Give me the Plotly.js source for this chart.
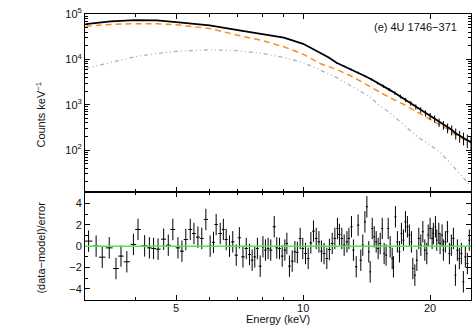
<!DOCTYPE html>
<html>
<head>
<meta charset="utf-8">
<script src="https://cdn.plot.ly/plotly-3.0.1.min.js"></script>
<style>
  html, body { margin: 0; padding: 0; background: #fff; }
  #plot { width: 472px; height: 327px; }
</style>
</head>
<body>
<div id="plot"></div>
<script>
// Spectrum (counts keV^-1)
const specE = [3.05, 3.5, 4.0, 4.5, 5.0, 6.0, 7.0, 8.0, 9.0, 10.0, 10.5, 11.0, 11.5,
  12.0, 12.5, 13.0, 13.5, 14.0, 14.5, 15.0, 15.5, 16.0, 16.5, 17.0, 17.5, 18.0, 18.5,
  19.0, 19.5, 20.0, 20.5, 21.0, 21.5, 22.0, 22.5, 23.0, 23.5, 24.0, 24.5, 25.0];
const specCounts = [60000, 69000, 73000, 72000, 66000, 56000, 44000, 36000, 30000, 22000, 17500, 14000, 11000,
  8400, 7100, 6000, 5100, 4300, 3650, 3000, 2550, 2150, 1820, 1520, 1280, 1080, 900,
  770, 650, 560, 490, 410, 360, 310, 280, 235, 205, 185, 165, 150];
const specErr = [300, 300, 300, 300, 300, 250, 250, 200, 200, 180, 170, 160, 150,
  300, 280, 260, 240, 230, 210, 200, 190, 170, 160, 150, 140, 130, 120,
  110, 100, 95, 90, 85, 80, 75, 70, 65, 60, 58, 55, 50];

// Model components
const compE = [3.05, 3.5, 4.0, 4.5, 5.0, 6.0, 7.0, 8.0, 9.0, 10.0, 11.0, 12.0, 13.0,
  14.4, 15.1, 16.0, 17.2, 17.9, 18.5, 19.5, 20.6, 21.0, 22.0, 23.0, 24.2, 25.0];
const diskCounts = [54000, 59000, 61000, 61000, 58000, 48000, 34000, 26000, 19000, 13000, 8000, 6000, 4300,
  2500, 1900, 1450, 1050, 850, 720, 540, 420, 380, 290, 215, 170, 145];
const bbCounts = [6300, 8500, 11500, 13500, 15000, 16200, 15500, 13500, 11000, 8500, 5800, 4000, 2600,
  1500, 1000, 680, 380, 280, 210, 150, 110, 95, 60, 38, 23, 16];

// Residuals (data-model)/error
const resE = [3.10, 3.23, 3.34, 3.47, 3.60, 3.70, 3.82, 3.96, 4.06, 4.21, 4.32, 4.42, 4.53, 4.67, 4.79, 4.91,
  5.05, 5.16, 5.27, 5.40, 5.51, 5.63, 5.75, 5.88, 6.02, 6.13, 6.22, 6.36, 6.47, 6.57, 6.69, 6.81, 6.94,
  7.06, 7.20, 7.33, 7.46, 7.57, 7.68, 7.79, 7.91, 8.03, 8.14, 8.26, 8.38, 8.54, 8.66, 8.79, 8.92,
  9.05, 9.15, 9.28, 9.42, 9.56, 9.69, 9.84, 9.98, 10.13, 10.28, 10.43, 10.58, 10.74, 10.90,
  11.05, 11.21, 11.38, 11.54, 11.72, 11.89, 12.06, 12.19, 12.35, 12.51, 12.70, 12.84,
  13.02, 13.16, 13.36, 13.50, 13.70, 13.85, 14.01, 14.16, 14.31, 14.42, 14.58, 14.74, 14.90,
  15.06, 15.23, 15.40, 15.56, 15.73, 15.91, 16.08, 16.26, 16.37, 16.55, 16.73, 16.92,
  17.10, 17.29, 17.48, 17.67, 17.86, 18.06, 18.20, 18.40, 18.60, 18.80, 19.01, 19.22, 19.43, 19.64, 19.79,
  20.00, 20.22, 20.36, 20.59, 20.74, 20.97, 21.12, 21.35, 21.50, 21.74, 21.98, 22.22, 22.46, 22.71, 22.96,
  23.21, 23.46, 23.72, 23.98, 24.24, 24.51, 24.77];
const resVal = [0.47, 0, -1.03, -0.16, -2.09, -0.93, -1.46, 0.16, 1.56, 0.03, -0.16, -0.22, -0.28, 0.65, 0.09, 1.56,
  -0.16, -0.47, 0.62, 1.56, 1.18, 0.84, 0.72, 2.49, 0, 0.35, 2.02, 1.18, 1.56, 0.62, 0, 0.4, -0.84,
  0.78, -1.0, -0.22, -0.78, -1.31, -1.0, -0.22, -1.87, -0.06, -0.37, -0.22, -0.37, 1.81, -0.16, -0.22, -0.93,
  -0.37, 0.25, -1.87, -1.4, -0.53, -0.59, 0.72, -0.22, -0.69, -1.15, 0.31, 1.4, 0.72, 0.4,
  -0.47, -0.69, -1.15, -0.31, 0.25, 0.72, 1.65, 1.09, 0.72, 0.09, 0.4, 0.72,
  1.81, -0.37, -1.93, 1.96, -1.31, 0.09, 2.27, 3.68, -0.53, -2.4, 1.65, 0.87, 0.4,
  -0.22, 0.25, 1.65, -0.69, -0.84, 1.65, -0.06, -1.15, -1.93, 2.74, 0.4, -0.53,
  1.18, 0.56, 2.27, 1.81, 1.03, 0.4, -2.09, -2.71, -1.31, 0.72, 0.09, 1.34, -0.37, -0.69, 1.03,
  1.65, 0.72, 1.18, 1.81, 0.56, 1.18, 0.25, 1.03, -0.37, 0.4, 1.34, -0.69, 0.09, 0.72, -2.71,
  -0.37, -1.15, -0.69, -3.33, -1.0, -1.62, 0.56];

// Axis ticks
const xMajor = [5, 10, 20];
const xMinor = [4, 6, 7, 8, 9];
const yMajor = [100, 1000, 10000, 100000];
const yMajorText = ['10<sup>2</sup>', '10<sup>3</sup>', '10<sup>4</sup>', '10<sup>5</sup>'];
const resMajor = [-4, -2, 0, 2, 4];
const resMinor = [-5, -3, -1, 1, 3, 5];

const plotDiv = document.getElementById('plot');
const FONT = { family: 'Liberation Sans, Arial, sans-serif', size: 11, color: '#111' };

function yMinorTicks() {
  const out = [];
  for (let d = 10; d < 100000; d *= 10) {
    for (let k = 2; k <= 9; k++) out.push(k * d);
  }
  return out;
}

// half bin widths from neighbouring bin centres
function halfWidths(e) {
  return e.map((v, i) => {
    const lo = i > 0 ? e[i - 1] : v - (e[1] - e[0]);
    const hi = i < e.length - 1 ? e[i + 1] : v + (v - e[i - 1]);
    return (hi - lo) / 4;
  });
}

function draw() {
  const resHalf = halfWidths(resE);

  const bbTrace = {
    x: compE, y: bbCounts, xaxis: 'x2', yaxis: 'y2',
    type: 'scatter', mode: 'lines',
    line: { color: '#aaaaaa', width: 1.2, dash: '4px,3px,1px,3px,1px,3px' },
    hoverinfo: 'skip'
  };
  const diskTrace = {
    x: compE, y: diskCounts, xaxis: 'x2', yaxis: 'y2',
    type: 'scatter', mode: 'lines',
    line: { color: '#ff8c1a', width: 1.5, dash: '6px,4px' },
    hoverinfo: 'skip'
  };
  const specTrace = {
    x: specE, y: specCounts, xaxis: 'x2', yaxis: 'y2',
    type: 'scatter', mode: 'lines',
    line: { color: '#000', width: 1.8 },
    error_y: { type: 'data', array: specErr, color: '#000', thickness: 1, width: 0 }
  };
  const resTrace = {
    x: resE, y: resVal, xaxis: 'x', yaxis: 'y',
    type: 'scatter', mode: 'markers',
    marker: { size: 1, color: '#000' },
    error_x: { type: 'data', array: resHalf, color: '#000', thickness: 1, width: 0 },
    error_y: { type: 'constant', value: 1, color: '#000', thickness: 1, width: 0 }
  };

  const split = 0.3766;
  const xRange = [Math.log10(3.04), Math.log10(25)];
  const axisCommon = {
    showline: true, linecolor: '#000', linewidth: 1, mirror: 'allticks',
    ticks: 'inside', ticklen: 5, tickcolor: '#000', tickwidth: 1,
    showgrid: false, zeroline: false, tickfont: FONT
  };

  const layout = {
    width: 472, height: 327,
    margin: { l: 85, r: 1, t: 14, b: 27 },
    paper_bgcolor: '#fff', plot_bgcolor: '#fff',
    showlegend: false,
    font: FONT,
    xaxis: Object.assign({}, axisCommon, {
      type: 'log', range: xRange, anchor: 'y', domain: [0, 1],
      tickmode: 'array', tickvals: xMajor, ticktext: xMajor.map(String),
      ticklabelstandoff: -2,
      minor: { tickmode: 'array', tickvals: xMinor, ticks: 'inside', ticklen: 3, tickcolor: '#000' }
    }),
    xaxis2: Object.assign({}, axisCommon, {
      type: 'log', range: xRange, anchor: 'y2', domain: [0, 1], matches: 'x',
      tickmode: 'array', tickvals: xMajor, showticklabels: false,
      minor: { tickmode: 'array', tickvals: xMinor, ticks: 'inside', ticklen: 3, tickcolor: '#000' }
    }),
    yaxis: Object.assign({}, axisCommon, {
      domain: [0, split], range: [-5.03, 5.03], anchor: 'x',
      tickmode: 'array', tickvals: resMajor, ticktext: resMajor.map(v => v < 0 ? '−' + (-v) : String(v)),
      minor: { tickmode: 'array', tickvals: resMinor, ticks: 'inside', ticklen: 3, tickcolor: '#000' }
    }),
    yaxis2: Object.assign({}, axisCommon, {
      type: 'log', domain: [split, 1], range: [1.07, 5.0], anchor: 'x2',
      tickmode: 'array', tickvals: yMajor, ticktext: yMajorText,
      minor: { tickmode: 'array', tickvals: yMinorTicks(), ticks: 'inside', ticklen: 3, tickcolor: '#000' }
    }),
    shapes: [{
      type: 'line', xref: 'x domain', yref: 'y', x0: 0, x1: 1, y0: 0, y1: 0,
      line: { color: '#44ee44', width: 1.5 }, layer: 'above'
    }],
    annotations: [
      { text: '(e) 4U 1746−371', xref: 'paper', yref: 'paper', x: 0.97, y: 0.955,
        xanchor: 'right', yanchor: 'middle', showarrow: false, font: FONT },
      { text: 'Counts keV<sup>−1</sup>', xref: 'paper', yref: 'paper', x: -0.115, y: 0.647,
        xanchor: 'center', yanchor: 'middle', textangle: -90, showarrow: false, font: FONT },
      { text: '(data−model)/error', xref: 'paper', yref: 'paper', x: -0.115, y: 0.182,
        xanchor: 'center', yanchor: 'middle', textangle: -90, showarrow: false, font: FONT },
      { text: 'Energy (keV)', xref: 'paper', yref: 'paper', x: 0.5, y: -0.066,
        xanchor: 'center', yanchor: 'middle', showarrow: false, font: FONT }
    ]
  };

  Plotly.newPlot(plotDiv, [bbTrace, diskTrace, specTrace, resTrace], layout, { staticPlot: true });
}

draw();
</script>
</body>
</html>
